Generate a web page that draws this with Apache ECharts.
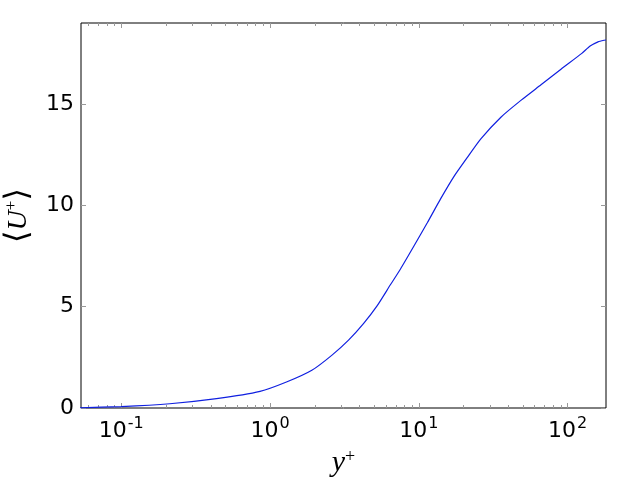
<!DOCTYPE html>
<html>
<head>
<meta charset="utf-8">
<script src="https://cdn.jsdelivr.net/npm/echarts@6/dist/echarts.min.js"></script>
<style>
  html, body { margin: 0; padding: 0; background: #fff; }
  #chart { width: 640px; height: 480px; }
</style>
</head>
<body>
<div id="chart"></div>
<script>
// y+ (log) and mean velocity <U+>
const yPlus = [0.053, 0.1, 0.212, 0.437, 0.857, 1.29, 1.91, 2.61, 3.37, 4.26, 5.24, 6.44, 7.53, 9.25, 11.4, 14.0, 17.2, 21.2, 26.1, 35.6, 48.5, 66.2, 90.2, 124.5, 141.6, 160, 176, 181];
const uPlus = [0.01, 0.07, 0.21, 0.46, 0.82, 1.28, 1.86, 2.61, 3.35, 4.18, 5.04, 6.08, 6.86, 7.98, 9.14, 10.32, 11.42, 12.37, 13.28, 14.35, 15.18, 15.95, 16.72, 17.5, 17.86, 18.07, 18.15, 18.16];

const xMajorTicks = [0.1, 1, 10, 100];
const xMinorTicks = [0.06, 0.07, 0.08, 0.09,
  0.2, 0.3, 0.4, 0.5, 0.6, 0.7, 0.8, 0.9,
  2, 3, 4, 5, 6, 7, 8, 9,
  20, 30, 40, 50, 60, 70, 80, 90];
const yTicks = [0, 5, 10, 15];

const X_MIN = 0.0537, X_MAX = 181;
const Y_MIN = 0, Y_MAX = 19;
const tickColor = '#999';

const chart = echarts.init(document.getElementById('chart'));

const supLabel = (v) => {
  const e = Math.round(Math.log10(v));
  return '{b|10}{s|' + e + '}';
};

const logAxis = (pos, ticks, len, withLabels) => ({
  type: 'log',
  logBase: 10,
  position: pos,
  min: X_MIN,
  max: X_MAX,
  axisLine: { show: false },
  splitLine: { show: false },
  axisTick: {
    show: true,
    inside: true,
    length: len,
    customValues: ticks,
    lineStyle: { color: tickColor, width: 1 }
  },
  axisLabel: withLabels ? {
    show: true,
    customValues: xMajorTicks,
    margin: 8,
    formatter: supLabel,
    rich: {
      b: { fontFamily: 'DejaVu Sans', fontSize: 22, color: '#000', verticalAlign: 'bottom' },
      s: { fontFamily: 'DejaVu Sans', fontSize: 16, color: '#000', verticalAlign: 'bottom', padding: [0, 0, 10, 1] }
    }
  } : { show: false }
});

const valAxis = (pos, withLabels) => ({
  type: 'value',
  position: pos,
  min: Y_MIN,
  max: Y_MAX,
  axisLine: { show: false },
  splitLine: { show: false },
  axisTick: {
    show: true,
    inside: true,
    length: 5,
    customValues: yTicks,
    lineStyle: { color: tickColor, width: 1 }
  },
  axisLabel: withLabels ? {
    show: true,
    customValues: yTicks,
    margin: 7,
    fontFamily: 'DejaVu Sans',
    fontSize: 22,
    color: '#000'
  } : { show: false }
});

const xBottom = logAxis('bottom', xMajorTicks, 5, true);
xBottom.name = '{i|y}{s|+}';
xBottom.nameLocation = 'middle';
xBottom.nameGap = 40;
xBottom.nameTextStyle = {
  rich: {
    i: { fontFamily: 'Liberation Serif', fontStyle: 'italic', fontSize: 30, color: '#000' },
    s: { fontFamily: 'Liberation Serif', fontSize: 18, color: '#000', verticalAlign: 'top' }
  }
};

const yLeft = valAxis('left', true);
yLeft.name = '{a|\u27E8}{i|U}{s|+}{a|\u27E9}';
yLeft.nameLocation = 'middle';
yLeft.nameRotate = 90;
yLeft.nameGap = 42;
yLeft.nameTextStyle = {
  rich: {
    a: { fontFamily: 'DejaVu Serif', fontSize: 32, color: '#000' },
    i: { fontFamily: 'Liberation Serif', fontStyle: 'italic', fontSize: 28, color: '#000' },
    s: { fontFamily: 'Liberation Serif', fontSize: 17, color: '#000', verticalAlign: 'top' }
  }
};

const option = {
  backgroundColor: '#fff',
  animation: false,
  grid: {
    left: 81,
    right: 34,
    top: 23,
    bottom: 72,
    outerBoundsMode: 'none',
    show: true,
    borderColor: '#000',
    borderWidth: 1,
    backgroundColor: '#fff'
  },
  xAxis: [
    xBottom,
    logAxis('bottom', xMinorTicks, 3, false),
    logAxis('top', xMajorTicks, 5, false),
    logAxis('top', xMinorTicks, 3, false)
  ],
  yAxis: [
    yLeft,
    valAxis('right', false)
  ],
  series: [{
    type: 'line',
    xAxisIndex: 0,
    yAxisIndex: 0,
    data: yPlus.map((x, i) => [x, uPlus[i]]),
    showSymbol: false,
    smooth: 0.2,
    lineStyle: { color: '#1020e0', width: 1.2 }
  }]
};

chart.setOption(option);
</script>
</body>
</html>
